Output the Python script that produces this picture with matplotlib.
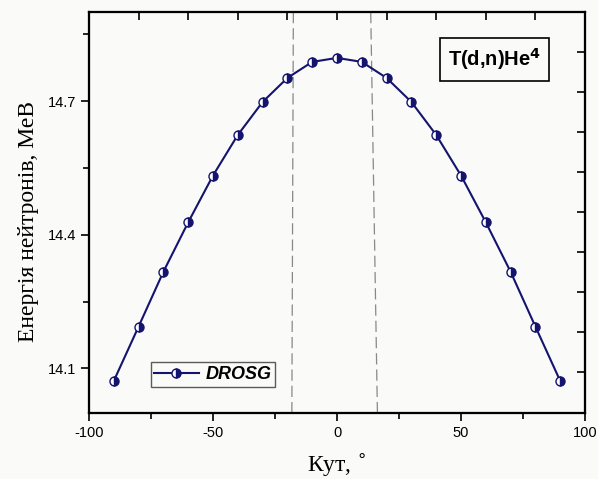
import matplotlib
matplotlib.use("Agg")
import matplotlib.pyplot as plt
from matplotlib.ticker import MultipleLocator, NullFormatter

angles = [-90, -80, -70, -60, -50, -40, -30, -20, -10, 0, 10, 20, 30, 40, 50, 60, 70, 80, 90]
energy = [14.072, 14.194, 14.317, 14.428, 14.533, 14.624, 14.698, 14.752, 14.788, 14.797,
          14.788, 14.752, 14.698, 14.624, 14.533, 14.428, 14.317, 14.194, 14.072]
dash_left_x = [-17.6, -18.2]
dash_right_x = [13.6, 16.3]
dash_y = [14.9, 14.0]

bg = "#fafaf8"
navy = "#14146e"

fig = plt.figure(figsize=(5.98, 4.79), dpi=100, facecolor=bg)
ax = fig.add_axes([89/598, 1-413/479, (585-89)/598, (413-12)/479], facecolor=bg)

ax.plot(dash_left_x, dash_y, color="#888888", lw=0.9, ls=(0, (9, 4)), zorder=1)
ax.plot(dash_right_x, dash_y, color="#888888", lw=0.9, ls=(0, (9, 4)), zorder=1)

ax.plot(angles, energy, color=navy, lw=1.5, marker="o", ms=6.5, fillstyle="right",
        markerfacecolor=navy, markerfacecoloralt="white", markeredgecolor=navy,
        markeredgewidth=1.0, label="DROSG", zorder=3)

ax.set_xlim(-100, 100)
ax.set_ylim(14.0, 14.9)

ax.xaxis.set_minor_locator(MultipleLocator(25))
ax.yaxis.set_minor_locator(MultipleLocator(0.15))
ax.set_xticks([-100, -50, 0, 50, 100])
ax.set_xticklabels(["-100", "-50", "0", "50", "100"])
ax.set_yticks([14.1, 14.4, 14.7])
ax.set_yticklabels(["14.1", "14.4", "14.7"])

ax.tick_params(axis="both", which="major", direction="out", length=6, width=1.2,
               labelsize=10.5, top=False, right=False)
ax.tick_params(axis="both", which="minor", direction="out", length=4, width=1.2,
               top=False, right=False)
for lab in ax.get_xticklabels() + ax.get_yticklabels():
    lab.set_family("Liberation Sans")

for sp in ax.spines.values():
    sp.set_linewidth(1.5)

# top axis ticks (inward, every 20)
axt = ax.twiny()
axt.set_xlim(-100, 100)
axt.xaxis.set_major_locator(MultipleLocator(20))
axt.xaxis.set_major_formatter(NullFormatter())
axt.tick_params(axis="x", direction="in", length=6, width=1.2)
# right axis ticks (inward)
axr = ax.twinx()
axr.set_ylim(0, 401)
axr.set_yticks([40.7, 80.7, 120.7, 160.7, 200.7, 240.7, 280.7, 320.7, 360.7])
axr.yaxis.set_major_formatter(NullFormatter())
axr.tick_params(axis="y", direction="in", length=6, width=1.2)
for a in (axt, axr):
    for sp in a.spines.values():
        sp.set_linewidth(1.5)

ax.set_xlabel("Кут, $^{\\circ}$", family="Liberation Serif", fontsize=17, labelpad=8)
ax.set_ylabel("Енергія нейтронів, МеВ", family="Liberation Serif", fontsize=17)
ax.yaxis.set_label_coords((39 - 89) / 496, (413 - 221) / 401)

leg = ax.legend(loc="lower left", bbox_to_anchor=((150.7-89)/496, (413-386.5)/401),
                frameon=True, fancybox=False, edgecolor="#333333", handlelength=2.45,
                borderpad=0.2, handletextpad=0.4, borderaxespad=0,
                prop={"family": "Liberation Sans", "weight": "bold", "style": "italic", "size": 13})
leg.get_frame().set_linewidth(1.0)
leg.get_frame().set_facecolor(bg)
leg.set_zorder(10)

ax.text((494.5-89)/496, (413-59.5)/401, "T(d,n)He$^\\mathbf{4}$", transform=ax.transAxes,
        ha="center", va="center",
        fontsize=14.5, fontweight="bold", family="Liberation Sans",
        bbox=dict(boxstyle="square,pad=0.4", facecolor=bg, edgecolor="black", linewidth=1.2))

fig.savefig("out.png", dpi=100, facecolor=bg)
